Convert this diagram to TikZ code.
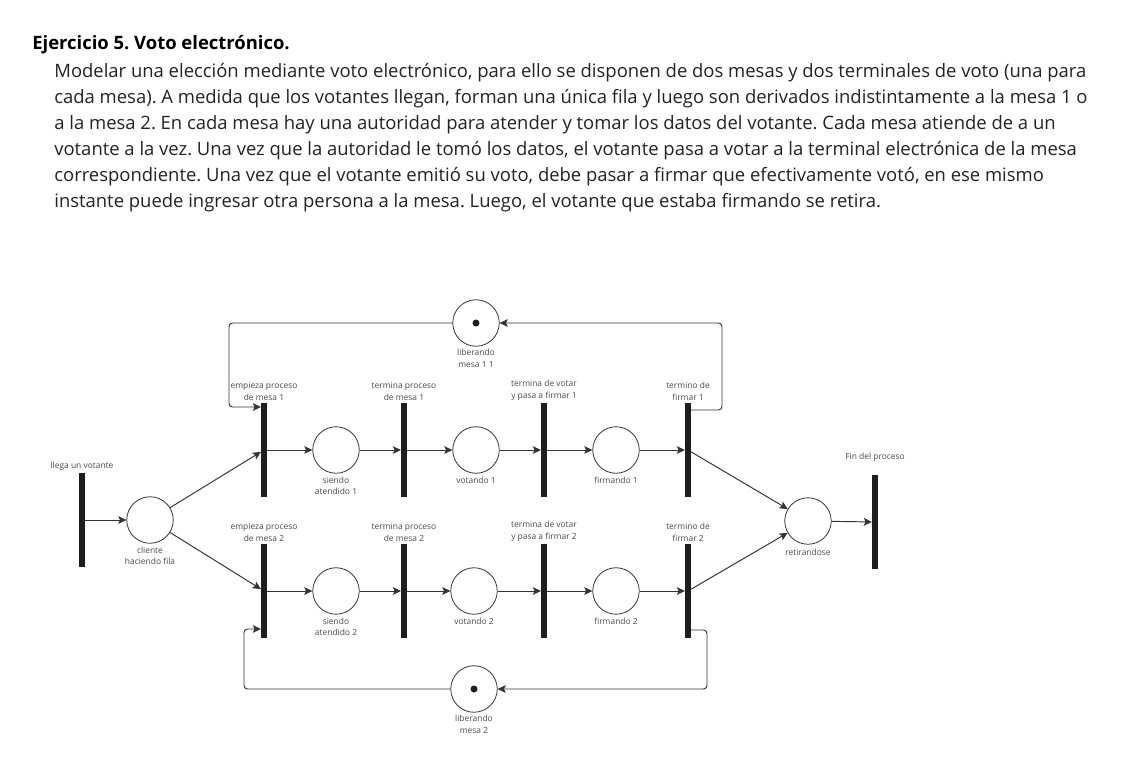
\documentclass[tikz,border=0pt]{standalone}
\usepackage{fontspec}
\setmainfont{Open Sans}
\usepackage{tikz}
\usetikzlibrary{calc}
\usetikzlibrary{arrows.meta}
\frenchspacing
\definecolor{linec}{HTML}{333333}
\definecolor{barc}{HTML}{1E1E1E}
\definecolor{labc}{HTML}{4A4A4A}
\definecolor{bodyc}{HTML}{222222}
\tikzset{place/.style = {shape=circle,draw=linec,line width=0.45pt,minimum size=0.93cm,inner sep=0pt}}
\tikzset{trans/.style = {shape=rectangle,fill=barc,minimum width=0.11cm,minimum height=1.88cm,inner sep=0pt}}
\tikzset{edge/.style = {-{Stealth[length=4.6pt,width=4.4pt,inset=1pt]},draw=linec,line width=0.55pt}}
\tikzset{lbl/.style = {font=\fontsize{4.8}{6.8}\selectfont,text=labc,align=center,inner sep=0pt}}

\begin{document}
\begin{tikzpicture}[x=0.02cm,y=-0.02cm]
            \useasboundingbox (0,0) rectangle (1143,764);

            % Statement
            \node[anchor=base west,inner sep=0pt,font=\fontsize{10.5}{14.74}\bfseries] (title) at (32,50) {Ejercicio 5. Voto electrónico.};
            \node[anchor=base west,inner sep=0pt,align=left,text=bodyc,font=\fontsize{10.5}{14.74}\selectfont] (body) at (54,207)
                {Modelar una elección mediante voto electrónico, para ello se disponen de dos mesas y dos terminales de voto (una para\\
                 cada mesa). A medida que los votantes llegan, forman una única fila y luego son derivados indistintamente a la mesa 1 o\\
                 a la mesa 2. En cada mesa hay una autoridad para atender y tomar los datos del votante. Cada mesa atiende de a un\\
                 votante a la vez. Una vez que la autoridad le tomó los datos, el votante pasa a votar a la terminal electrónica de la mesa\\
                 correspondiente. Una vez que el votante emitió su voto, debe pasar a firmar que efectivamente votó, en ese mismo\\
                 instante puede ingresar otra persona a la mesa. Luego, el votante que estaba firmando se retira.};

            % Places
            \node[place,label={[lbl,label distance=1.5pt]below:cliente\\haciendo fila}] (p0) at (150,520) {};
            \node[place,label={[lbl,label distance=1.5pt]below:siendo\\atendido 1}] (p1) at (336,450) {};
            \node[place,label={[lbl,label distance=1.5pt]below:votando 1}] (p2) at (476,450) {};
            \node[place,label={[lbl,label distance=1.5pt]below:firmando 1}] (p3) at (616,450) {};
            \node[place,label={[lbl,label distance=1.5pt]below:siendo\\atendido 2}] (p4) at (336,591) {};
            \node[place,label={[lbl,label distance=1.5pt]below:votando 2}] (p5) at (474,591) {};
            \node[place,label={[lbl,label distance=1.5pt]below:firmando 2}] (p6) at (616,591) {};
            \node[place,label={[lbl,label distance=1pt]below:liberando\\mesa 1 1}] (m1) at (476,323) {};
            \node[place,label={[lbl,label distance=1pt]below:liberando\\mesa 2}] (m2) at (474,689) {};
            \node[place,label={[lbl,label distance=2.5pt]below:retirandose}] (p7) at (808,521) {};

            % Tokens
            \fill[barc] (m1.center) circle (0.07cm);
            \fill[barc] (m2.center) circle (0.07cm);

            % Transitions
            \node[trans,label={[lbl,label distance=1pt]above:llega un votante}] (t0) at (82,520) {};
            \node[trans,label={[lbl,label distance=1pt]above:empieza proceso\\de mesa 1}] (t1) at (264,450) {};
            \node[trans,label={[lbl,label distance=1pt]above:termina proceso\\de mesa 1}] (t2) at (404,450) {};
            \node[trans,label={[lbl,label distance=1pt]above:termina de votar\\y pasa a firmar 1}] (t3) at (544,450) {};
            \node[trans,label={[lbl,label distance=1pt]above:termino de\\firmar 1}] (t4) at (688,450) {};
            \node[trans,label={[lbl,label distance=1pt]above:empieza proceso\\de mesa 2}] (t5) at (264,591) {};
            \node[trans,label={[lbl,label distance=1pt]above:termina proceso\\de mesa 2}] (t6) at (404,591) {};
            \node[trans,label={[lbl,label distance=1pt]above:termina de votar\\y pasa a firmar 2}] (t7) at (544,591) {};
            \node[trans,label={[lbl,label distance=1pt]above:termino de\\firmar 2}] (t8) at (688,591) {};
            \node[trans,label={[lbl,label distance=7.5pt]above:Fin del proceso}] (t9) at (875,522) {};

            % Edges
            % queue
            \draw[edge] (t0) to (p0);
            \draw[edge] (p0) to (t1);
            \draw[edge] (p0) to (t5);

            % mesa 1
            \draw[edge] (t1) to (p1);
            \draw[edge] (p1) to (t2);
            \draw[edge] (t2) to (p2);
            \draw[edge] (p2) to (t3);
            \draw[edge] (t3) to (p3);
            \draw[edge] (p3) to (t4);
            \draw[edge,rounded corners=2] (t4.east |- 0,410) -| (722,323) -- (m1);
            \draw[edge,rounded corners=2] (m1) -| (229,407) -- (t1.west |- 0,407);

            % mesa 2
            \draw[edge] (t5) to (p4);
            \draw[edge] (p4) to (t6);
            \draw[edge] (t6) to (p5);
            \draw[edge] (p5) to (t7);
            \draw[edge] (t7) to (p6);
            \draw[edge] (p6) to (t8);
            \draw[edge,rounded corners=2] (t8.east |- 0,630) -| (707,689) -- (m2);
            \draw[edge,rounded corners=2] (m2) -| (244,629) -- (t5.west |- 0,629);

            % exit
            \draw[edge] (t4) to (p7);
            \draw[edge] (t8) to (p7);
            \draw[edge] (p7) to (t9);

        \end{tikzpicture}
\end{document}
